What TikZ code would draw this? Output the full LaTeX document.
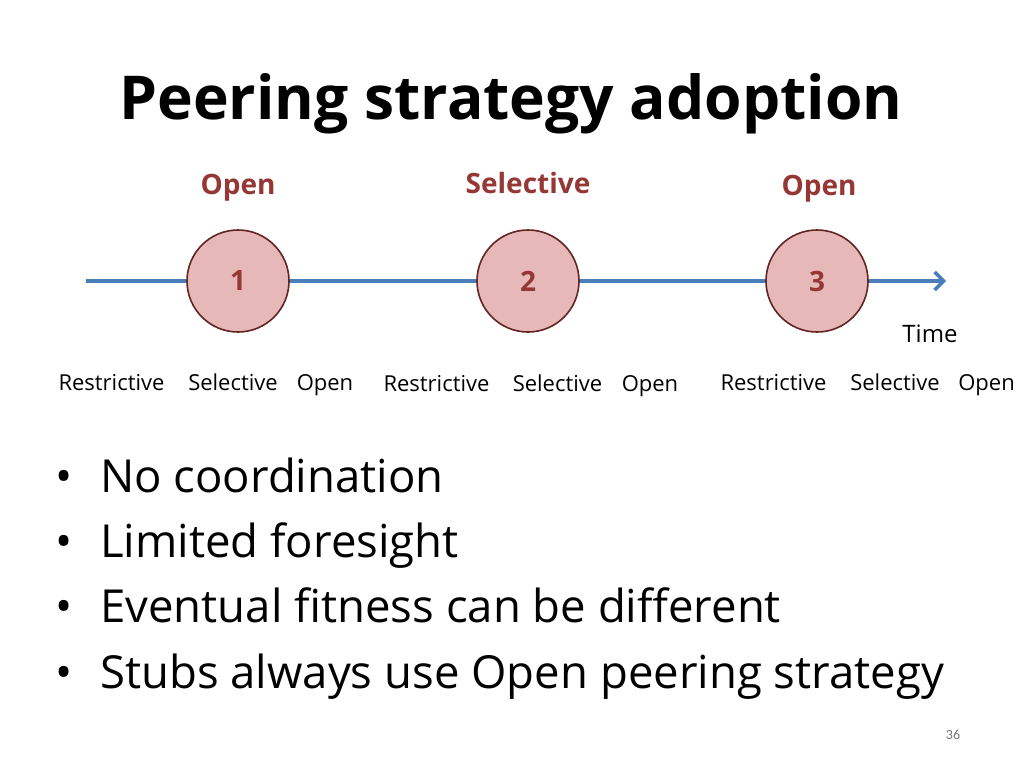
\documentclass[tikz,border=0pt]{standalone}
\usepackage{fontspec}
\setmainfont{Open Sans}
\newfontfamily\pagefont{Carlito}
\usetikzlibrary{arrows.meta}
\definecolor{lblred}{HTML}{953735}
\definecolor{circfill}{HTML}{E6B9B8}
\definecolor{circline}{HTML}{632523}
\definecolor{axisblue}{HTML}{4A7EBB}
\tikzset{
  stage/.style={circle, draw=circline, line width=1.6pt, fill=circfill, minimum size=102pt, inner sep=0pt,
    text=lblred, font=\fontsize{28}{32}\selectfont\bfseries},
  toplbl/.style={anchor=base, text=lblred, font=\fontsize{28}{32}\selectfont\bfseries, inner sep=0pt},
  optlbl/.style={anchor=base, font=\fontsize{22}{26}\selectfont, inner sep=0pt},
  bullet/.style={anchor=base west, font=\fontsize{45.5}{52}\selectfont, inner sep=0pt},
  dot/.style={anchor=base, font=\fontsize{45.5}{52}\selectfont, inner sep=0pt},
}
\begin{document}
\begin{tikzpicture}[x=1pt,y=-1pt]
\useasboundingbox (0,0) rectangle (1024,768);
\node[anchor=base, inner sep=0pt, font=\fontsize{60.5}{68}\selectfont\bfseries] (title) at (511,119) {Peering strategy adoption};
\node[toplbl] (l1) at (238,194) {Open};
\node[toplbl] (l2) at (528,193) {Selective};
\node[toplbl] (l3) at (819,195) {Open};
\coordinate (start) at (86,281);
\coordinate (end) at (946,281);
\draw[axisblue, line width=3.5pt, -{Straight Barb[length=9pt, width=18pt, line width=3.5pt]}] (start) -- (end);
\node[stage] (c1) at (238,281) {1};
\node[stage] (c2) at (528,281) {2};
\node[stage] (c3) at (817,281) {3};
\node[anchor=base, inner sep=0pt, font=\fontsize{24}{28}\selectfont] (time) at (930,342) {Time};
\node[optlbl] (a1) at (111.5,390) {Restrictive};
\node[optlbl] (a2) at (233,390) {Selective};
\node[optlbl] (a3) at (325,390) {Open};
\node[optlbl] (b1) at (436.5,391) {Restrictive};
\node[optlbl] (b2) at (557.5,391) {Selective};
\node[optlbl] (b3) at (650,391) {Open};
\node[optlbl] (d1) at (773.5,390) {Restrictive};
\node[optlbl] (d2) at (895,390) {Selective};
\node[optlbl] (d3) at (986.5,390) {Open};
\node[dot] (p1) at (64,492) {•};
\node[bullet] (t1) at (100,492) {No coordination};
\node[dot] (p2) at (64,557) {•};
\node[bullet] (t2) at (100,557) {Limited foresight};
\node[dot] (p3) at (64,622) {•};
\node[bullet] (t3) at (100,622) {Eventual fitness can be different};
\node[dot] (p4) at (64,688) {•};
\node[bullet] (t4) at (100,688) {Stubs always use Open peering strategy};
\node[anchor=base, inner sep=0pt, text=black!55, font=\pagefont\fontsize{14}{16}\selectfont] (pg) at (953,739) {36};
\end{tikzpicture}
\end{document}
